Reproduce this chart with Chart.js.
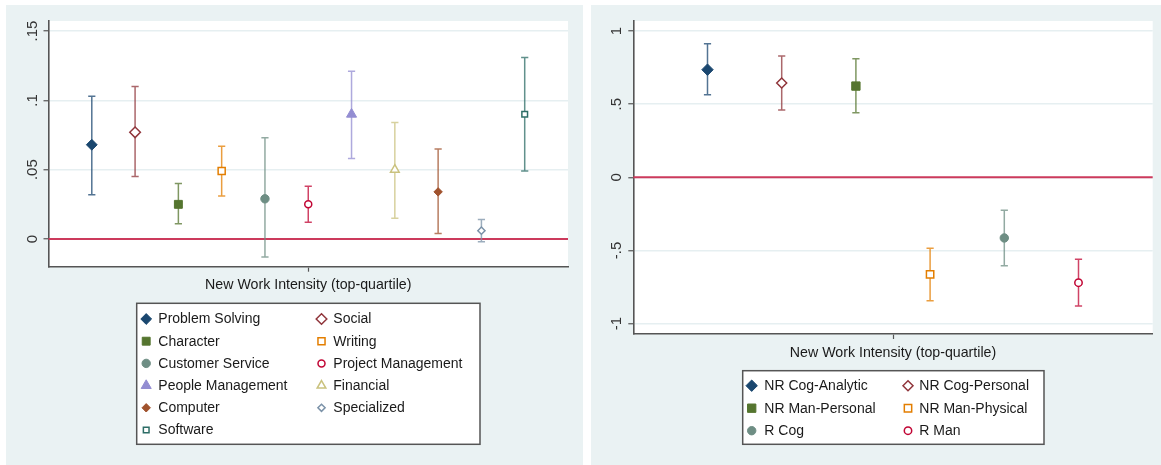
<!DOCTYPE html>
<html>
<head>
<meta charset="utf-8">
<script src="https://cdn.jsdelivr.net/npm/chart.js@4.4.1/dist/chart.umd.min.js"></script>
<style>
  html, body { margin: 0; padding: 0; background: #fff; }
  body { width: 1161px; height: 465px; position: relative; overflow: hidden; }
  .panel { position: absolute; top: 5px; height: 460px; background: #eaf2f3; }
  #pl { left: 6px; width: 577px; }
  #pr { left: 591px; width: 570px; }
  canvas { display: block; }
</style>
</head>
<body>
<div class="panel" id="pl"><canvas id="chartL" width="577" height="460"></canvas></div>
<div class="panel" id="pr"><canvas id="chartR" width="570" height="460"></canvas></div>
<script>
// left panel: skill categories
const skillsL = ['Problem Solving', 'Social', 'Character', 'Writing', 'Customer Service', 'Project Management',
  'People Management', 'Financial', 'Computer', 'Specialized', 'Software'];
const estL = [0.068, 0.077, 0.025, 0.049, 0.029, 0.025, 0.090, 0.050, 0.034, 0.006, 0.090];
const loL  = [0.032, 0.045, 0.011, 0.031, -0.013, 0.012, 0.058, 0.015, 0.004, -0.002, 0.049];
const hiL  = [0.103, 0.110, 0.040, 0.067, 0.073, 0.038, 0.121, 0.084, 0.065, 0.014, 0.131];
const yTicksL = [0, 0.05, 0.1, 0.15];
const yTickLabelsL = ['0', '.05', '.1', '.15'];

// right panel: task groups
const tasksR = ['NR Cog-Analytic', 'NR Cog-Personal', 'NR Man-Personal', 'NR Man-Physical', 'R Cog', 'R Man'];
const estR = [0.736, 0.645, 0.624, -0.664, -0.415, -0.721];
const loR  = [0.565, 0.460, 0.442, -0.844, -0.605, -0.880];
const hiR  = [0.914, 0.830, 0.811, -0.486, -0.226, -0.561];
const yTicksR = [-1, -0.5, 0, 0.5, 1];
const yTickLabelsR = ['-1', '-.5', '0', '.5', '1'];

const xTitle = 'New Work Intensity (top-quartile)';

// marker looks
const stylesL = [
  { color: '#1a476f', shape: 'rectRot',  r: 5.4, hollow: false },
  { color: '#90353b', shape: 'rectRot',  r: 5.3, hollow: true },
  { color: '#55752f', shape: 'rect',     r: 5.6, hollow: false },
  { color: '#e37e00', shape: 'rect',     r: 5.0, hollow: true },
  { color: '#6e8e84', shape: 'circle',   r: 4.2, hollow: false },
  { color: '#c10534', shape: 'circle',   r: 3.5, hollow: true },
  { color: '#938dd2', shape: 'triangle', r: 5.8, hollow: false },
  { color: '#cac27e', shape: 'triangle', r: 5.0, hollow: true },
  { color: '#a0522d', shape: 'rectRot',  r: 4.2, hollow: false },
  { color: '#7b92a8', shape: 'rectRot',  r: 3.6, hollow: true },
  { color: '#2d6d66', shape: 'rect',     r: 4.0, hollow: true }
];
const stylesR = [
  { color: '#1a476f', shape: 'rectRot', r: 5.7, hollow: false },
  { color: '#90353b', shape: 'rectRot', r: 5.0, hollow: true },
  { color: '#55752f', shape: 'rect',    r: 5.9, hollow: false },
  { color: '#e37e00', shape: 'rect',    r: 5.2, hollow: true },
  { color: '#6e8e84', shape: 'circle',  r: 4.2, hollow: false },
  { color: '#c10534', shape: 'circle',  r: 3.7, hollow: true }
];

Chart.defaults.font.family = '"Liberation Sans", Arial, Helvetica, sans-serif';
Chart.defaults.font.size = 14;
Chart.defaults.color = '#222';

const areaFill = {
  id: 'areaFill',
  beforeDraw(chart) {
    const { ctx, chartArea: a } = chart;
    ctx.save();
    ctx.fillStyle = '#ffffff';
    ctx.fillRect(a.left, a.top, a.right - a.left, a.bottom - a.top);
    ctx.restore();
  }
};

const errorBars = {
  id: 'errorBars',
  beforeDatasetsDraw(chart, args, opts) {
    const { ctx, chartArea: a, scales: { x, y } } = chart;
    ctx.save();
    const y0 = y.getPixelForValue(0);
    ctx.strokeStyle = '#cc3a5c';
    ctx.lineWidth = 2;
    ctx.beginPath();
    ctx.moveTo(a.left, y0);
    ctx.lineTo(a.right, y0);
    ctx.stroke();
    chart.data.datasets.forEach(ds => {
      const px = x.getPixelForValue(ds.data[0].x);
      const pl = y.getPixelForValue(ds.errLo);
      const ph = y.getPixelForValue(ds.errHi);
      const c = opts.cap;
      ctx.strokeStyle = ds.barColor;
      ctx.lineWidth = 1.5;
      ctx.beginPath();
      ctx.moveTo(px, pl); ctx.lineTo(px, ph);
      ctx.moveTo(px - c, pl); ctx.lineTo(px + c, pl);
      ctx.moveTo(px - c, ph); ctx.lineTo(px + c, ph);
      ctx.stroke();
    });
    ctx.restore();
  }
};

const boxLegend = {
  id: 'boxLegend',
  afterDraw(chart, args, o) {
    const ctx = chart.ctx;
    ctx.save();
    ctx.fillStyle = '#ffffff';
    ctx.fillRect(o.box[0], o.box[1], o.box[2], o.box[3]);
    ctx.strokeStyle = '#555';
    ctx.lineWidth = 1.5;
    ctx.strokeRect(o.box[0], o.box[1], o.box[2], o.box[3]);
    chart.data.datasets.forEach((ds, i) => {
      const col = i % 2, row = Math.floor(i / 2);
      const yy = o.rowY + row * o.rowGap;
      ctx.fillStyle = ds.pointBackgroundColor;
      ctx.strokeStyle = ds.pointBorderColor;
      ctx.lineWidth = ds.pointBorderWidth;
      Chart.helpers.drawPoint(ctx, {
        pointStyle: ds.pointStyle, radius: ds.pointRadius, borderWidth: ds.pointBorderWidth, rotation: 0
      }, o.symX[col], yy);
      ctx.fillStyle = '#1a1a1a';
      ctx.font = '14px "Liberation Sans", Arial, sans-serif';
      ctx.textAlign = 'left';
      ctx.textBaseline = 'middle';
      ctx.fillText(ds.label, o.textX[col], yy + 0.5);
    });
    ctx.restore();
  }
};

function makeDatasets(names, est, lo, hi, styles) {
  return names.map((n, i) => {
    const s = styles[i];
    return {
      label: n,
      data: [{ x: i + 1, y: est[i] }],
      errLo: lo[i],
      errHi: hi[i],
      barColor: s.color + 'c0',
      pointStyle: s.shape,
      pointRadius: s.r,
      pointBackgroundColor: s.hollow ? '#ffffff' : s.color,
      pointBorderColor: s.color,
      pointBorderWidth: s.hollow ? 1.5 : 1
    };
  });
}

function makeChart(id, cfg) {
  return new Chart(document.getElementById(id), {
    type: 'scatter',
    data: { datasets: makeDatasets(cfg.names, cfg.est, cfg.lo, cfg.hi, cfg.styles) },
    plugins: [areaFill, errorBars, boxLegend],
    options: {
      responsive: false,
      animation: false,
      devicePixelRatio: 1,
      events: [],
      layout: { padding: cfg.pad },
      plugins: {
        legend: { display: false },
        tooltip: { enabled: false },
        errorBars: { cap: 3.6 },
        boxLegend: cfg.legend
      },
      scales: {
        x: {
          type: 'linear',
          min: 0,
          max: cfg.xMax,
          afterBuildTicks: s => { s.ticks = [{ value: cfg.xMax / 2 }]; },
          afterFit: s => { s.height = cfg.xH; },
          ticks: { callback: () => '', padding: 0 },
          grid: { drawOnChartArea: false, drawTicks: true, tickLength: 5, tickColor: '#555', tickWidth: 1.2 },
          border: { display: true, color: '#555', width: 1.6 },
          title: { display: true, text: xTitle, color: '#1a1a1a', font: { size: 14.2 }, padding: 0 }
        },
        y: {
          type: 'linear',
          min: cfg.yMin,
          max: cfg.yMax,
          afterBuildTicks: s => { s.ticks = cfg.yTicks.map(v => ({ value: v })); },
          afterFit: s => { s.width = cfg.yW; },
          ticks: {
            minRotation: 90,
            maxRotation: 90,
            crossAlign: 'center',
            padding: cfg.tickPad,
            color: '#333',
            font: { size: 15 },
            callback: (v, i) => cfg.yLabels[i]
          },
          grid: { color: '#e6eff1', lineWidth: 1.5, tickLength: 5, tickColor: '#555', tickWidth: 1.2 },
          border: { display: true, color: '#555', width: 1.6 }
        }
      }
    }
  });
}

makeChart('chartL', {
  names: skillsL, est: estL, lo: loL, hi: hiL, styles: stylesL,
  xMax: 12, xH: 26.7,
  yMin: -0.02, yMax: 0.1573, yTicks: yTicksL, yLabels: yTickLabelsL, yW: 42.5, tickPad: 0.5,
  pad: { top: 16, left: 0, right: 15, bottom: 171.6 },
  legend: { box: [130.7, 298.3, 343.3, 141], rowY: 314, rowGap: 22.2, symX: [140.2, 315.5], textX: [152.3, 327.3] }
});

makeChart('chartR', {
  names: tasksR, est: estR, lo: loR, hi: hiR, styles: stylesR,
  xMax: 7, xH: 27.4,
  yMin: -1.072, yMax: 1.069, yTicks: yTicksR, yLabels: yTickLabelsR, yW: 42.3, tickPad: 2.5,
  pad: { top: 16, left: 0, right: 8.3, bottom: 103.6 },
  legend: { box: [151.7, 365.7, 301.3, 73.6], rowY: 380.7, rowGap: 22.5, symX: [160.7, 317], textX: [173.3, 328.3] }
});
</script>
</body>
</html>
